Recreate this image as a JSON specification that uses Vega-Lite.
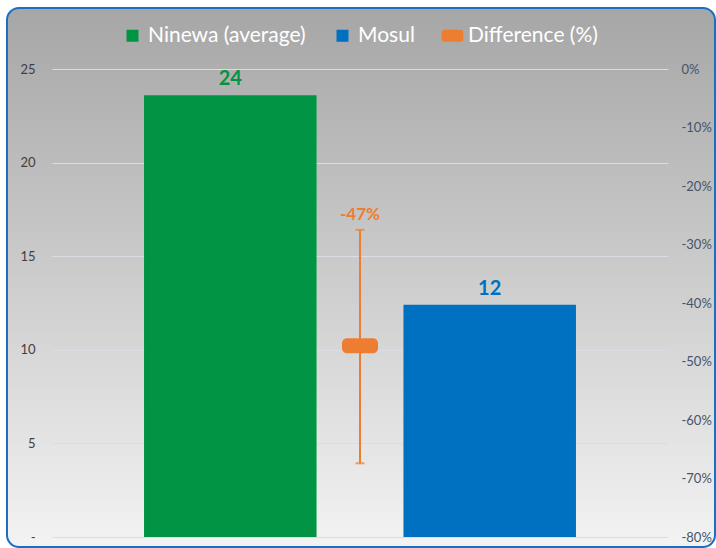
{
  "$schema": "https://vega.github.io/schema/vega-lite/v6.json",
  "width": 708,
  "height": 539,
  "autosize": {"type": "none"},
  "padding": {"left": 7, "top": 8, "right": 1, "bottom": 1},
  "background": "white",
  "config": {
    "font": "Lato",
    "view": {
      "fill": {
        "gradient": "linear",
        "x1": 0, "y1": 0, "x2": 0, "y2": 1,
        "stops": [
          {"offset": 0, "color": "#a6a6a6"},
          {"offset": 1, "color": "#f3f3f3"}
        ]
      },
      "stroke": "#1a6fc4",
      "strokeWidth": 2,
      "cornerRadius": 12
    }
  },
  "datasets": {
    "bars": [
      {"region": "Ninewa (average)", "value": 23.6, "label": "24"},
      {"region": "Mosul", "value": 12.4, "label": "12"}
    ],
    "diff": [
      {"region": "Difference (%)", "diff": -47.3, "low": -27.5, "high": -67.4, "label": "-47%"}
    ]
  },
  "layer": [
    {
      "data": {"name": "bars"},
      "encoding": {
        "x": {
          "field": "region", "type": "nominal",
          "scale": {"domain": ["Ninewa (average)", "Difference (%)", "Mosul"], "range": [45, 661], "paddingInner": 0, "paddingOuter": 0.8745},
          "axis": null
        },
        "y": {
          "field": "value", "type": "quantitative",
          "scale": {"domain": [0, 25], "range": [529, 61], "nice": false},
          "axis": {
            "orient": "left", "values": [0, 5, 10, 15, 20, 25], "title": null,
            "domain": false, "ticks": false, "offset": -30, "labelPadding": 2,
            "labelExpr": "datum.value == 0 ? '-\u00a0\u00a0\u00a0' : datum.label",
            "labelFont": "Lato", "labelFontSize": 13, "labelColor": "#404040",
            "grid": true, "gridColor": "#dadde3", "gridWidth": 1
          }
        },
        "color": {
          "field": "region", "type": "nominal",
          "scale": {"domain": ["Ninewa (average)", "Mosul", "Difference (%)"], "range": ["#009444", "#0070c0", "#ed7d31"]},
          "legend": {
            "orient": "none", "legendX": 115, "legendY": 17, "direction": "horizontal",
            "title": null, "labelFont": "Lato", "labelFontSize": 21, "labelColor": "white",
            "symbolSize": 144, "symbolStrokeWidth": 0, "symbolOpacity": 1, "columnPadding": 26, "labelOffset": 5,
            "symbolType": {"expr": "datum.label == 'Difference (%)' ? 'M-1.3,-1H1.3Q1.8,-1 1.8,-0.5V0.5Q1.8,1 1.3,1H-1.3Q-1.8,1 -1.8,0.5V-0.5Q-1.8,-1 -1.3,-1Z' : 'square'"}
          }
        }
      },
      "layer": [
        {"mark": {"type": "bar", "width": {"band": 1.33}}},
        {
          "mark": {"type": "text", "baseline": "bottom", "dy": -6, "fontSize": 20, "fontWeight": "bold", "font": "Lato"},
          "encoding": {"text": {"field": "label"}}
        }
      ]
    },
    {
      "data": {"name": "diff"},
      "encoding": {
        "x": {"field": "region", "type": "nominal"},
        "y": {
          "field": "diff", "type": "quantitative",
          "scale": {"domain": [-80, 0], "range": [529, 61], "nice": false, "zero": false},
          "axis": {
            "orient": "right", "values": [0, -10, -20, -30, -40, -50, -60, -70, -80], "title": null,
            "domain": false, "ticks": false, "offset": -36, "labelPadding": 2, "grid": false,
            "labelExpr": "datum.value + '%'",
            "labelFont": "Lato", "labelFontSize": 13, "labelColor": "#44546a"
          }
        }
      },
      "layer": [
        {
          "mark": {"type": "rule", "color": "#ed7d31", "strokeWidth": 2},
          "encoding": {"y": {"field": "low", "type": "quantitative"}, "y2": {"field": "high"}}
        },
        {
          "mark": {"type": "tick", "color": "#ed7d31", "size": 9, "thickness": 2},
          "encoding": {"y": {"field": "low", "type": "quantitative"}}
        },
        {
          "mark": {"type": "tick", "color": "#ed7d31", "size": 9, "thickness": 2},
          "encoding": {"y": {"field": "high", "type": "quantitative"}}
        },
        {
          "mark": {"type": "tick", "color": "#ed7d31", "size": 36, "thickness": 15, "cornerRadius": 5, "opacity": 1}
        },
        {
          "mark": {"type": "text", "color": "#ed7d31", "baseline": "bottom", "dy": -6, "fontSize": 17, "fontWeight": "bold", "font": "Lato"},
          "encoding": {"y": {"field": "low", "type": "quantitative"}, "text": {"field": "label"}}
        }
      ]
    }
  ],
  "resolve": {"scale": {"y": "independent"}}
}
